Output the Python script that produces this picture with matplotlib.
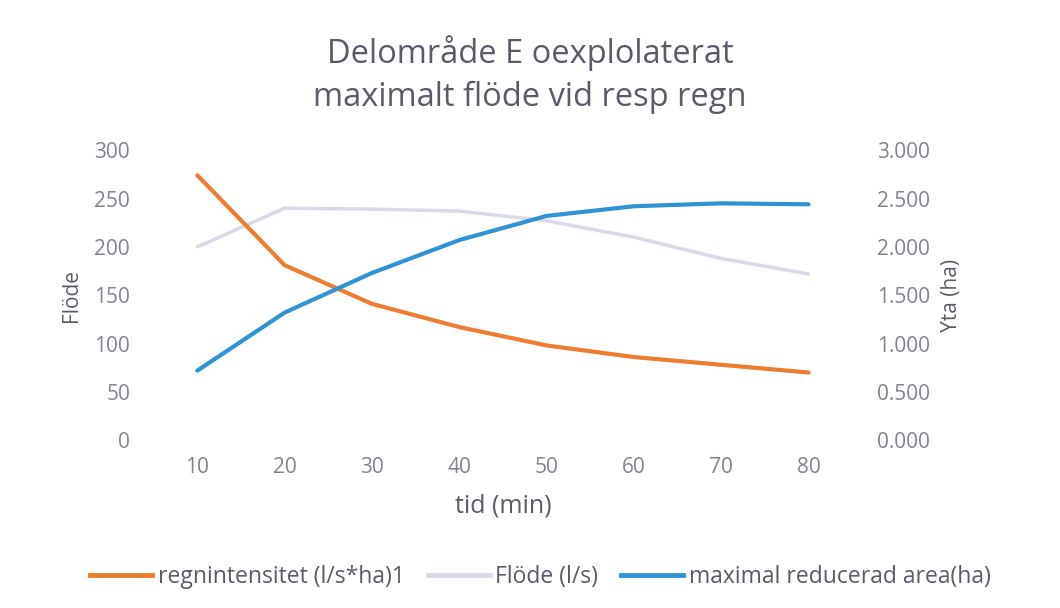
import matplotlib
matplotlib.use("Agg")
import matplotlib.pyplot as plt
from matplotlib.lines import Line2D

# Data
tid = [10, 20, 30, 40, 50, 60, 70, 80]
regnintensitet = [274, 181, 141, 117, 98, 86, 78, 70]
flode = [200, 240, 239, 237, 227, 210, 188, 172]
reducerad_area = [0.72, 1.32, 1.73, 2.07, 2.32, 2.42, 2.45, 2.44]

left_ticks = [0, 50, 100, 150, 200, 250, 300]
right_ticks = [0.0, 0.5, 1.0, 1.5, 2.0, 2.5, 3.0]

plt.rcParams['font.family'] = ['Open Sans', 'DejaVu Sans']

C_ORANGE = '#ED7D31'
C_GRAY = '#D9DAE8'
C_BLUE = '#2F93D6'
TXT = '#595C68'
TICK = '#80838F'

fig = plt.figure(figsize=(10.6, 6.08), dpi=100)
ax = fig.add_axes([0.145, 0.276, 0.659, 0.477])
ax2 = ax.twinx()

pos = list(range(len(tid)))
ax.plot(pos, regnintensitet, color=C_ORANGE, lw=3, solid_capstyle='round', zorder=3)
ax.plot(pos, flode, color=C_GRAY, lw=2.5, solid_capstyle='round', zorder=2)
ax2.plot(pos, reducerad_area, color=C_BLUE, lw=3, solid_capstyle='round', zorder=3)

ax.set_xlim(-0.5, len(tid) - 0.5)
ax.set_ylim(0, 300)
ax2.set_ylim(0, 3)
ax.set_xticks(pos)
ax.set_xticklabels([str(t) for t in tid])
ax.set_yticks(left_ticks)
ax.set_yticklabels([str(v) for v in left_ticks])
ax2.set_yticks(right_ticks)
ax2.set_yticklabels([f"{v:.3f}" for v in right_ticks])

for a in (ax, ax2):
    for s in a.spines.values():
        s.set_visible(False)
    a.tick_params(length=0, labelsize=15, labelcolor=TICK)
ax.tick_params(axis='x', pad=12)
ax.tick_params(axis='y', pad=17)
ax2.tick_params(axis='y', pad=18)

ax.set_xlabel('tid (min)', fontsize=18, color=TXT, labelpad=11)
ax.set_ylabel('Flöde', fontsize=15, color=TXT, labelpad=9)
ax2.set_ylabel('Yta (ha)', fontsize=15, color=TXT, labelpad=8)

fig.text(0.5, 0.913, 'Delområde E oexplolaterat', ha='center', va='center',
         fontsize=23.5, color=TXT)
fig.text(0.5, 0.84, 'maximalt flöde vid resp regn', ha='center', va='center',
         fontsize=23.5, color=TXT)

handles = [
    Line2D([], [], color=C_ORANGE, lw=3.5),
    Line2D([], [], color=C_GRAY, lw=3.5),
    Line2D([], [], color=C_BLUE, lw=3.5),
]
labels = ['regnintensitet (l/s*ha)1', 'Flöde (l/s)', 'maximal reducerad area(ha)']
leg = fig.legend(handles, labels, loc='center', bbox_to_anchor=(0.51, 0.051),
                 ncol=3, frameon=False, fontsize=16.5, handlelength=2.7,
                 handletextpad=0.25, columnspacing=1.0)
for t in leg.get_texts():
    t.set_color(TXT)

fig.savefig('out.png', dpi=100, facecolor='white')
